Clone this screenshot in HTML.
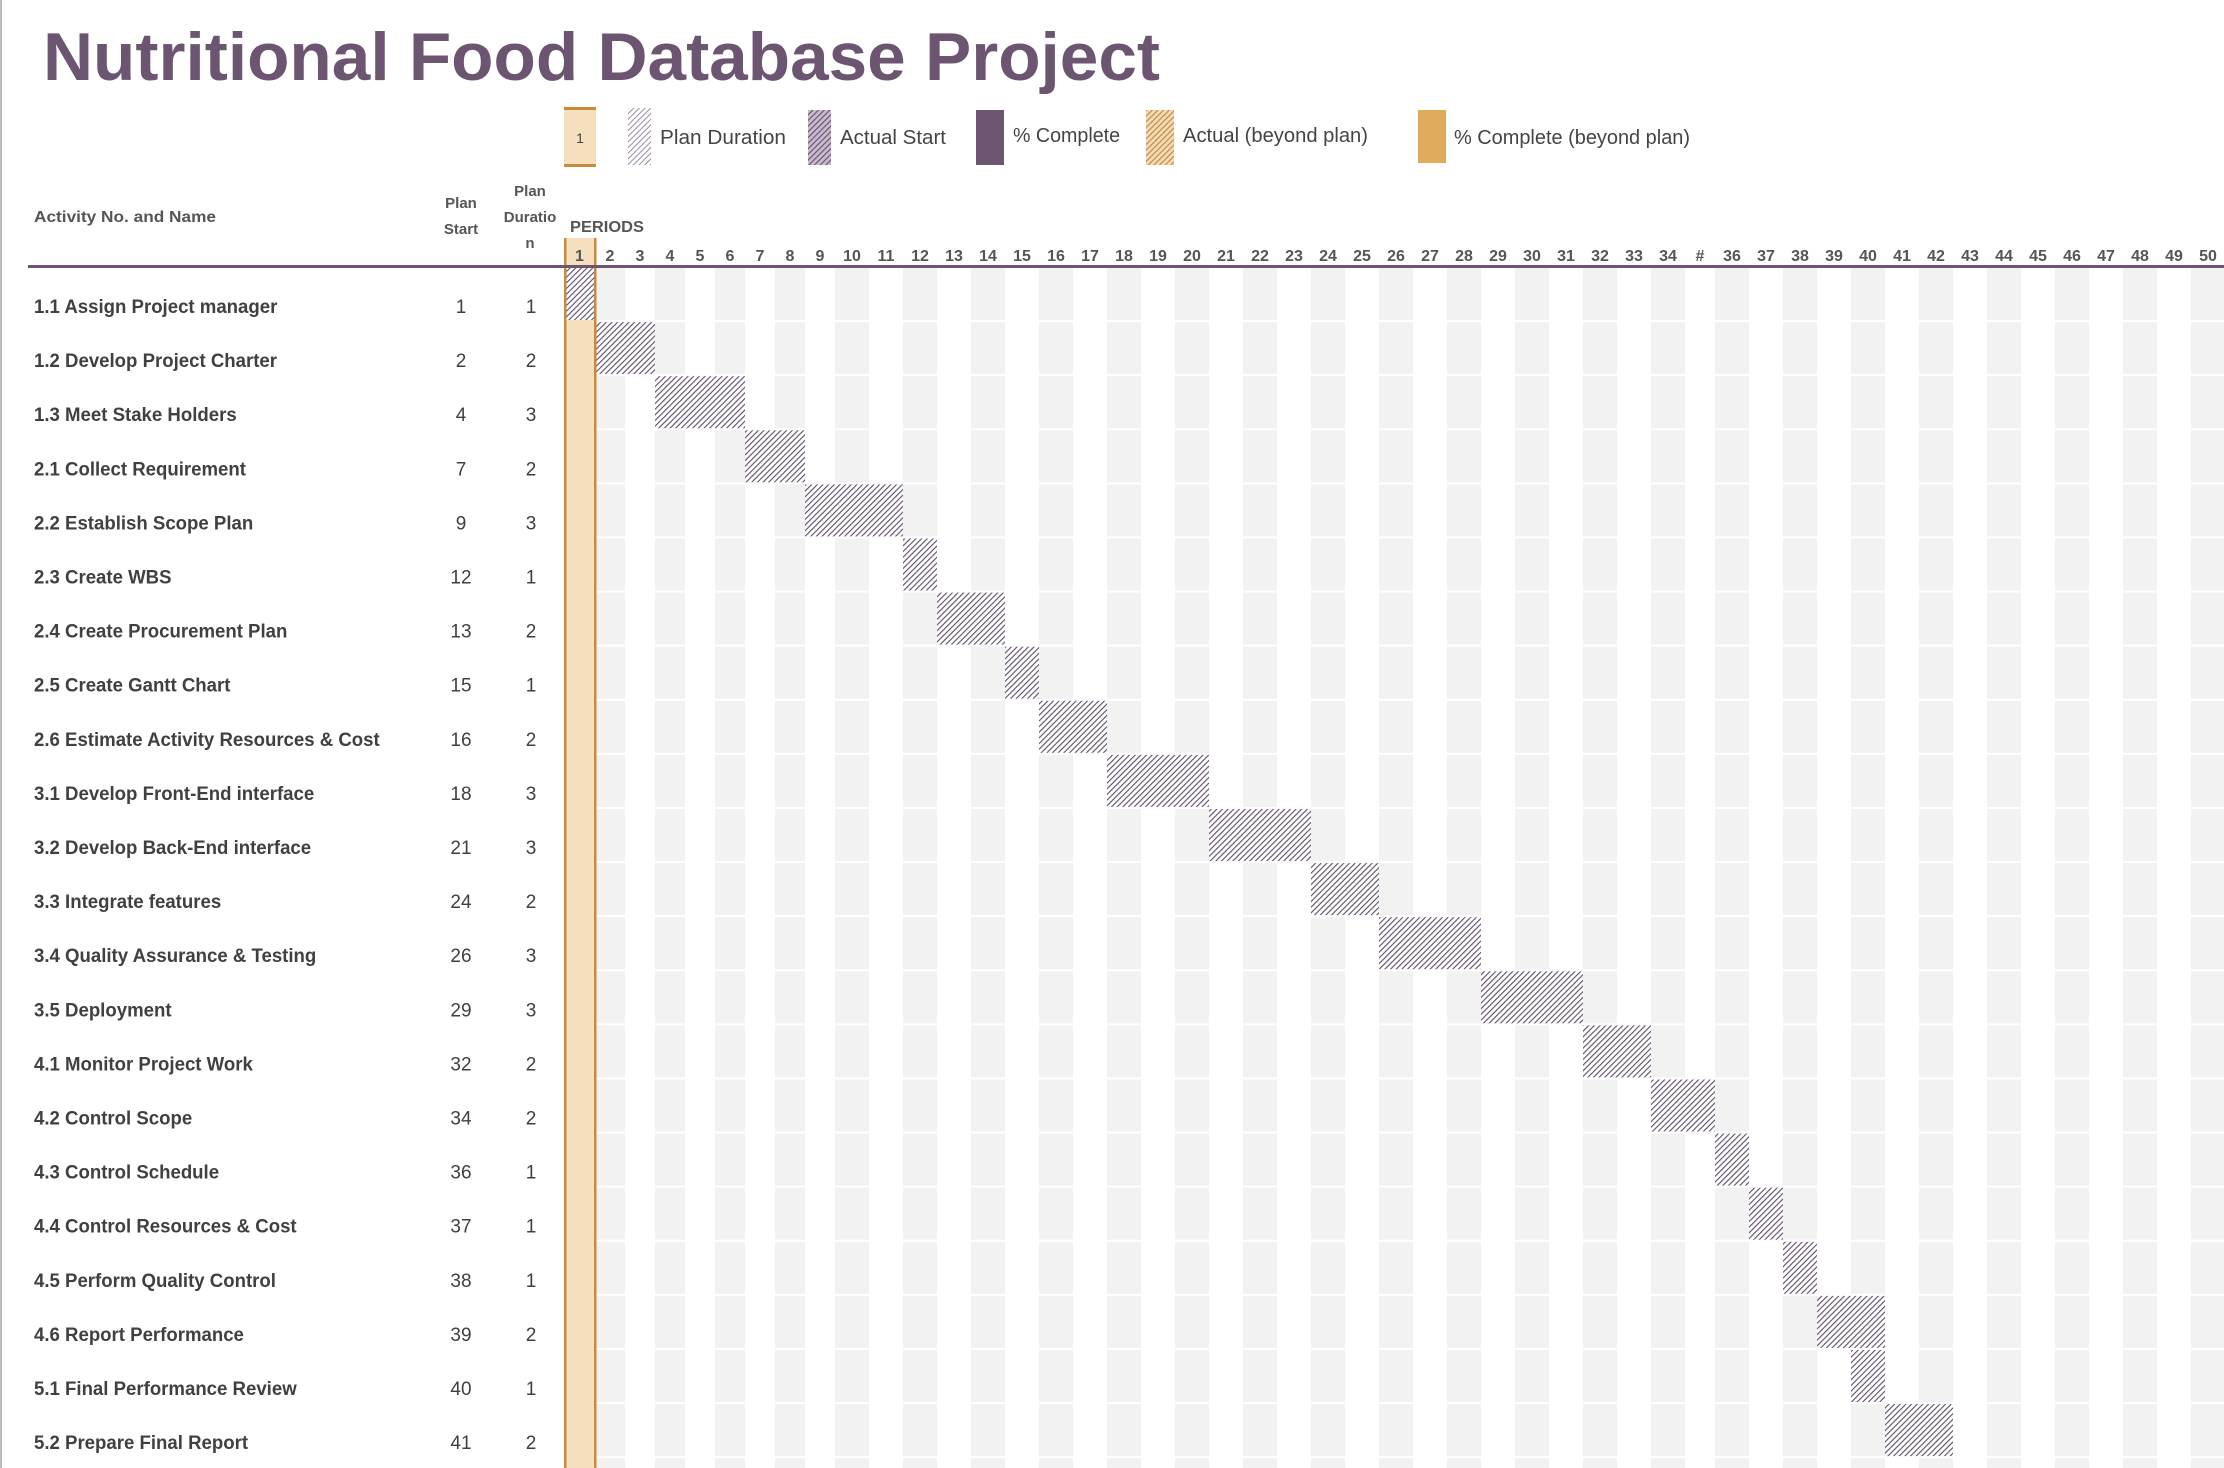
<!DOCTYPE html>
<html><head><meta charset="utf-8"><style>
html,body{margin:0;padding:0;background:#fff;}
svg{display:block;font-family:"Liberation Sans",sans-serif;}
</style></head><body>
<svg id="chart" width="2224" height="1468" viewBox="0 0 2224 1468" xmlns="http://www.w3.org/2000/svg">
<defs>
<pattern id="hatch" width="4" height="4" patternUnits="userSpaceOnUse" patternTransform="rotate(45)">
<rect width="4" height="4" fill="#fff"/><rect width="1.1" height="4" fill="#5e4b6a"/></pattern>
<pattern id="hatchL" width="4" height="4" patternUnits="userSpaceOnUse" patternTransform="rotate(45)">
<rect width="4" height="4" fill="#fff"/><rect width="1" height="4" fill="#9a8aa6"/></pattern>
<pattern id="hatchP" width="4" height="4" patternUnits="userSpaceOnUse" patternTransform="rotate(45)">
<rect width="4" height="4" fill="#c9bcd1"/><rect width="1.2" height="4" fill="#6b5570"/></pattern>
<pattern id="hatchO" width="4" height="4" patternUnits="userSpaceOnUse" patternTransform="rotate(45)">
<rect width="4" height="4" fill="#f3dcb8"/><rect width="1.2" height="4" fill="#c48a3e"/></pattern>
</defs>
<rect x="0" y="0" width="2" height="1468" fill="#bdbdbd"/>
<text x="43" y="80" font-size="68" font-weight="bold" fill="#6b5570" textLength="1117" lengthAdjust="spacingAndGlyphs">Nutritional Food Database Project</text>

<g font-size="20" fill="#444">
<rect x="564" y="107" width="32" height="60" fill="#f5dfbc"/>
<rect x="564" y="107" width="32" height="3" fill="#c98b3a"/><rect x="564" y="164" width="32" height="3" fill="#c98b3a"/>
<text x="580" y="143" font-size="14" text-anchor="middle">1</text>
<rect x="628" y="108" width="23" height="57" fill="url(#hatchL)"/>
<text x="660" y="144" textLength="126" lengthAdjust="spacingAndGlyphs">Plan Duration</text>
<rect x="808" y="110" width="23" height="55" fill="url(#hatchP)"/>
<text x="840" y="144" textLength="106" lengthAdjust="spacingAndGlyphs">Actual Start</text>
<rect x="976" y="110" width="28" height="55" fill="#6b5570"/>
<text x="1013" y="142" textLength="107" lengthAdjust="spacingAndGlyphs">% Complete</text>
<rect x="1146" y="110" width="28" height="55" fill="url(#hatchO)"/>
<text x="1183" y="142" textLength="185" lengthAdjust="spacingAndGlyphs">Actual (beyond plan)</text>
<rect x="1418" y="110" width="28" height="53" fill="#e1ab5e"/>
<text x="1454" y="144" textLength="236" lengthAdjust="spacingAndGlyphs">% Complete (beyond plan)</text>
</g>

<g font-weight="bold" fill="#555" font-size="16">
<text x="34" y="222" textLength="182" lengthAdjust="spacingAndGlyphs">Activity No. and Name</text>
<text x="461" y="208" text-anchor="middle" font-size="15">Plan<tspan x="461" y="234">Start</tspan></text>
<text x="530" y="196" text-anchor="middle" font-size="15">Plan<tspan x="530" y="222">Duratio</tspan><tspan x="530" y="248">n</tspan></text>
<text x="570" y="232" font-size="16" textLength="74" lengthAdjust="spacingAndGlyphs">PERIODS</text>
</g>
<g id="grid"></g>
<g id="bars"></g>
<g id="labels"></g>
<rect x="28" y="265" width="2196" height="3" fill="#6b5570"/>
</svg>
<script>
const activities = ["1.1 Assign Project manager","1.2 Develop Project Charter","1.3 Meet Stake Holders","2.1 Collect Requirement","2.2 Establish Scope Plan","2.3 Create WBS","2.4 Create Procurement Plan","2.5 Create Gantt Chart","2.6 Estimate Activity Resources & Cost","3.1 Develop Front-End interface","3.2 Develop Back-End interface","3.3 Integrate features","3.4 Quality Assurance & Testing","3.5 Deployment","4.1 Monitor Project Work","4.2 Control Scope","4.3 Control Schedule","4.4 Control Resources & Cost","4.5 Perform Quality Control","4.6 Report Performance","5.1 Final Performance Review","5.2 Prepare Final Report"];
const planStart = [1,2,4,7,9,12,13,15,16,18,21,24,26,29,32,34,36,37,38,39,40,41];
const planDuration = [1,2,3,2,3,1,2,1,2,3,3,2,3,3,2,2,1,1,1,2,1,2];
const periodLabels = Array.from({length:50},(_,i)=> i+1===35 ? "#" : String(i+1));

const NS="http://www.w3.org/2000/svg";
const colW=[];for(let p=1;p<=50;p++){colW.push(p===1?31:(p<=9?30:(p===35?30:34)));}
const colX=[564];for(let i=0;i<50;i++)colX.push(colX[i]+colW[i]);
function xOf(period){return colX[period-1];}
const rowTop=268,rowPitch=54.1,rowH=52;
function yOf(i){return rowTop+i*rowPitch;}
function mk(tag,attrs,parent){const e=document.createElementNS(NS,tag);for(const k in attrs)e.setAttribute(k,attrs[k]);parent.appendChild(e);return e;}

const grid=document.getElementById('grid'),bars=document.getElementById('bars'),labels=document.getElementById('labels');
let hl=mk('rect',{x:564,y:238,width:32,height:1230,fill:'#f5dfbc'},grid);


for(let p=2;p<=50;p+=2){
  for(let r=0;r<activities.length+1;r++){
    let s=mk('rect',{x:xOf(p),y:yOf(r),width:colW[p-1],height:rowH,fill:'#f2f2f2'},grid);
    
    
  }
}
periodLabels.forEach((lab,i)=>{
  let t=mk('text',{x:colX[i]+colW[i]/2,y:261,'text-anchor':'middle','font-size':16,'font-weight':'bold',fill:'#555'},labels);
  t.textContent=lab;
  
  
});
activities.forEach((a,i)=>{
  let b=mk('rect',{x:xOf(planStart[i]),y:yOf(i),width:xOf(planStart[i]+planDuration[i])-xOf(planStart[i]),height:rowH,fill:'url(#hatch)'},bars);
  
  
});
[564,594].forEach(x=>{let l=mk('rect',{x:x,y:238,width:2.5,height:1230,fill:'#c98b3a'},bars);

});
activities.forEach((a,i)=>{
  const cy=yOf(i)+45;
  let g=mk('g',{transform:`translate(34,${cy}) scale(0.98,1)`},labels);
  let t=mk('text',{x:0,y:0,'font-size':19,'font-weight':'bold',fill:'#404040'},g);
  t.textContent=a;
  
  
  let s=mk('text',{x:461,y:cy,'font-size':19,'text-anchor':'middle',fill:'#404040'},labels);
  s.textContent=planStart[i];
  
  
  let d=mk('text',{x:531,y:cy,'font-size':19,'text-anchor':'middle',fill:'#404040'},labels);
  d.textContent=planDuration[i];
  
  
});
</script>
</body></html>
